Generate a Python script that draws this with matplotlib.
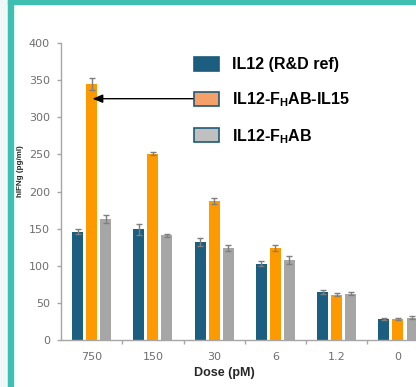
import matplotlib.pyplot as plt
import numpy as np
from matplotlib.patches import Patch, Rectangle

plt.rcParams["mathtext.fontset"] = "custom"
plt.rcParams["mathtext.rm"] = "Liberation Sans"
plt.rcParams["mathtext.bf"] = "Liberation Sans:bold"

DOSES = ["750", "150", "30", "6", "1.2", "0"]
SERIES = ["IL12 (R&D ref)", r"IL12-F$_{\mathbf{H}}$AB-IL15", r"IL12-F$_{\mathbf{H}}$AB"]
IL12_REF = [146, 149, 132, 103, 65, 28]
IL12_REF_ERR = [3.5, 7, 5.5, 3, 3, 1.5]
IL12_FHAB_IL15 = [345, 251, 187, 124, 61, 28]
IL12_FHAB_IL15_ERR = [8, 2, 4, 3.5, 2, 1]
IL12_FHAB = [163, 141, 124, 108, 62, 30]
IL12_FHAB_ERR = [5, 2, 4, 5, 2, 2]

BAR_COLORS = ["#1b5e80", "#ff9900", "#a6a6a6"]
LEGEND_COLORS = ["#1b5e80", "#f4a068", "#c0c0c0"]
TEAL = "#3fbfb0"

fig = plt.figure(figsize=(4.16, 3.87), dpi=100)

# teal frame around the slide crop
fig.patches.append(Rectangle((0, 0), 8 / 416, 1, transform=fig.transFigure,
                             color="#eef8f8", zorder=0))
fig.patches.append(Rectangle((8 / 416, 0), 5 / 416, 1, transform=fig.transFigure,
                             color=TEAL, zorder=1))
fig.patches.append(Rectangle((8 / 416, 1 - 4 / 387), 1, 4 / 387, transform=fig.transFigure,
                             color=TEAL, zorder=1))

ax = fig.add_axes([61 / 416, 47 / 387, 355 / 416, 297 / 387])

x = np.arange(len(DOSES))
width = 0.18
step = 0.23
values = [IL12_REF, IL12_FHAB_IL15, IL12_FHAB]
errors = [IL12_REF_ERR, IL12_FHAB_IL15_ERR, IL12_FHAB_ERR]
for i, (vals, errs, color) in enumerate(zip(values, errors, BAR_COLORS)):
    ax.bar(x + (i - 1) * step, vals, width, color=color, zorder=2,
           yerr=errs, capsize=2.4,
           error_kw={"ecolor": "#7f7f7f", "elinewidth": 1.0, "capthick": 1.0, "zorder": 3})

ax.set_xlim(-0.5, 5.295)
ax.set_ylim(0, 400)
ax.set_yticks(np.arange(0, 401, 50))
ax.set_xticks(x)
ax.set_xticklabels(DOSES)
ax.set_xticks(x[:-1] + 0.5, minor=True)

for side in ["top", "right"]:
    ax.spines[side].set_visible(False)
for side in ["left", "bottom"]:
    ax.spines[side].set_color("#a6a6a6")
    ax.spines[side].set_linewidth(1.0)

ax.tick_params(axis="y", length=3, width=1, color="#a6a6a6", pad=5,
               labelsize=8, labelcolor="#6e6e6e")
ax.tick_params(axis="x", which="major", length=0, pad=9,
               labelsize=8, labelcolor="#6e6e6e")
ax.tick_params(axis="x", which="minor", length=3, width=1, color="#a6a6a6")

fig.text(224 / 416, 1 - 373 / 387, "Dose (pM)", ha="center", va="center",
         fontsize=9, fontweight="bold", family="Liberation Sans", color="#262626")
fig.text(20 / 416, 1 - 171 / 387, "hIFNg (pg/ml)", ha="center", va="center",
         rotation=90, fontsize=5.8, fontweight="bold", family="Liberation Sans",
         color="#262626")

handles = [Patch(facecolor=LEGEND_COLORS[0], edgecolor="#1f5a78", linewidth=1.2),
           Patch(facecolor=LEGEND_COLORS[1], edgecolor="#1f5a78", linewidth=1.2),
           Patch(facecolor=LEGEND_COLORS[2], edgecolor="#1f5a78", linewidth=1.2)]
fig.legend(handles, SERIES, loc="upper left",
           bbox_to_anchor=(194 / 416, 1 - 57 / 387), frameon=False,
           prop={"family": "Liberation Sans", "weight": "bold", "size": 11.5},
           handlelength=1.55, handleheight=0.95, handletextpad=0.8,
           labelspacing=1.12, borderpad=0, borderaxespad=0)

ax.annotate("", xy=(0.015, 325), xytext=(1.69, 325),
            arrowprops={"arrowstyle": "-|>,head_length=0.6,head_width=0.25",
                        "color": "black", "lw": 1.0, "shrinkA": 0, "shrinkB": 0},
            zorder=4)

fig.savefig("out.png", dpi=100)
